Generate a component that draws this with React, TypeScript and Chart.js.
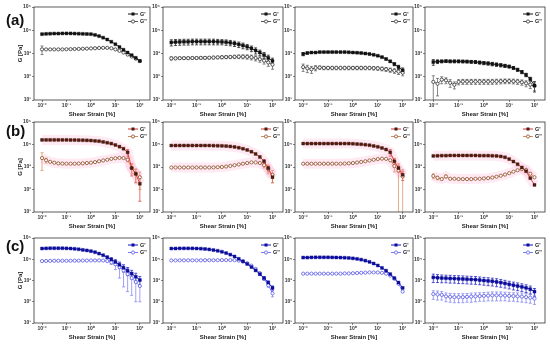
import React, { useEffect, useRef } from 'react';
import { Chart, registerables } from 'chart.js';
Chart.register(...registerables);

const FONT = '"Liberation Sans", Arial, sans-serif';
Chart.defaults.font.family = FONT;

// ---- shared axes / labels ----
const strain = [0.01, 0.0147, 0.0215, 0.0316, 0.0464, 0.0681, 0.1, 0.147, 0.215, 0.316, 0.464, 0.681, 1, 1.47, 2.15, 3.16, 4.64, 6.81, 10, 14.7, 21.5, 31.6, 46.4, 68.1, 100];
const xTickValues = [0.01, 0.1, 1, 10, 100];
const xTickLabels = ['10⁻²', '10⁻¹', '10⁰', '10¹', '10²'];
const yTickValues = [10, 100, 1000, 10000, 100000];
const yTickLabels = ['10¹', '10²', '10³', '10⁴', '10⁵'];
const seriesNames = ["G'", "G''"];
const rowLabels = ['(a)', '(b)', '(c)'];
const xTitle = 'Shear Strain [%]';
const yTitle = 'G [Pa]';

// ---- row (a) ----
const a1GP = [6800, 7000, 7100, 7200, 7200, 7300, 7300, 7300, 7200, 7100, 7000, 6900, 6800, 6300, 5600, 4800, 4000, 3200, 2500, 1900, 1450, 1100, 850, 650, 480];
const a1GPP = [1500, 1500, 1500, 1500, 1500, 1500, 1520, 1540, 1560, 1580, 1600, 1620, 1650, 1680, 1720, 1750, 1750, 1680, 1500, 1300, 1100, 900, 740, 600, 470];
const a1GPPerr = [600, 0, 0, 0, 0, 0, 0, 0, 0, 0, 0, 0, 0, 0, 0, 0, 0, 0, 0, 0, 0, 0, 0, 0, 0];

const a2GP = [3000, 3100, 3150, 3200, 3200, 3250, 3250, 3250, 3250, 3250, 3250, 3200, 3150, 3050, 2900, 2700, 2450, 2200, 1950, 1650, 1350, 1100, 850, 650, 480];
const a2GPerr = [900, 900, 900, 900, 900, 900, 900, 900, 900, 900, 900, 850, 800, 800, 750, 700, 650, 600, 500, 450, 400, 300, 250, 200, 150];
const a2GPP = [620, 620, 630, 630, 630, 640, 640, 650, 650, 660, 670, 680, 690, 700, 710, 720, 730, 730, 720, 690, 640, 570, 490, 410, 330];
const a2GPPerr = [100, 80, 80, 80, 80, 80, 80, 80, 80, 80, 90, 90, 100, 100, 110, 120, 130, 140, 150, 160, 160, 150, 140, 130, 120];

const a3GP = [950, 1050, 1100, 1100, 1150, 1150, 1150, 1150, 1150, 1150, 1150, 1130, 1100, 1080, 1050, 1000, 950, 880, 800, 700, 580, 460, 350, 260, 190];
const a3GPerr = [150, 100, 60, 60, 60, 60, 60, 60, 60, 60, 60, 60, 60, 60, 60, 60, 60, 50, 50, 50, 50, 50, 50, 50, 50];
const a3GPP = [260, 230, 210, 240, 250, 240, 240, 240, 240, 240, 240, 240, 240, 240, 240, 240, 240, 235, 230, 220, 210, 195, 180, 165, 150];
const a3GPPerr = [90, 80, 70, 60, 40, 40, 40, 40, 40, 40, 40, 40, 40, 40, 40, 40, 40, 40, 40, 40, 40, 40, 40, 40, 40];

const a4GP = [430, 450, 460, 470, 460, 460, 460, 455, 450, 440, 430, 410, 390, 375, 355, 335, 315, 295, 275, 240, 200, 160, 120, 80, 42];
const a4GPerr = [120, 80, 60, 60, 60, 60, 60, 60, 60, 60, 60, 60, 60, 60, 60, 55, 50, 45, 40, 35, 30, 25, 20, 15, 20];
const a4GPP = [60, 50, 75, 70, 55, 45, 60, 62, 62, 62, 62, 62, 62, 62, 62, 63, 64, 65, 65, 64, 62, 58, 52, 46, 40];
const a4GPPerr = [50, 35, 25, 20, 20, 15, 15, 15, 15, 15, 15, 15, 15, 15, 15, 15, 15, 15, 15, 15, 15, 15, 15, 15, 15];

// ---- row (b) ----
const b1GP = [16000, 16000, 16000, 16000, 16000, 16000, 16000, 15800, 15800, 15600, 15500, 15300, 15000, 14500, 14000, 13000, 12000, 11000, 9500, 8000, 6500, 4500, 900, 500, 180];
const b1GPerr = [0, 0, 0, 0, 0, 0, 0, 0, 0, 0, 0, 0, 0, 0, 0, 0, 0, 0, 0, 0, 0, 1500, 500, 300, 150];
const b1GPP = [2500, 2000, 1700, 1550, 1450, 1420, 1400, 1400, 1400, 1420, 1450, 1500, 1550, 1650, 1800, 1950, 2100, 2300, 2450, 2550, 2500, 2100, 900, 500, 350];
const b1GPPerr = [1800, 500, 0, 0, 0, 0, 0, 0, 0, 0, 0, 0, 0, 0, 0, 0, 0, 0, 0, 0, 0, 400, 400, 300, 250];

const b2GP = [9000, 9000, 9000, 9000, 9000, 9000, 9000, 9000, 9000, 9000, 8900, 8800, 8700, 8500, 8200, 7800, 7200, 6500, 5700, 4800, 3800, 2800, 1800, 900, 350];
const b2GPerr = [0, 0, 0, 0, 0, 0, 0, 0, 0, 0, 0, 0, 0, 0, 0, 0, 0, 0, 0, 0, 0, 0, 300, 300, 150];
const b2GPP = [950, 950, 950, 950, 950, 950, 950, 950, 950, 950, 960, 980, 1000, 1050, 1120, 1200, 1300, 1400, 1500, 1600, 1600, 1500, 1200, 800, 450];
const b2GPPerr = [0, 0, 0, 0, 0, 0, 0, 0, 0, 0, 0, 0, 0, 0, 0, 0, 0, 0, 0, 0, 0, 0, 300, 300, 250];

const b3GP = [11000, 11000, 11000, 11000, 11000, 11000, 11000, 11000, 11000, 11000, 11000, 11000, 10800, 10500, 10200, 9800, 9300, 8600, 7900, 7000, 6000, 4500, 1800, 900, 450];
const b3GPerr = [0, 0, 0, 0, 0, 0, 0, 0, 0, 0, 0, 0, 0, 0, 0, 0, 0, 0, 0, 0, 0, 1500, 600, 300, 200];
const b3GPP = [1400, 1400, 1400, 1400, 1400, 1400, 1400, 1400, 1400, 1400, 1420, 1450, 1500, 1580, 1680, 1800, 1950, 2100, 2250, 2350, 2300, 2000, 1100, 700, 380];
const b3GPPerr = [0, 0, 0, 0, 0, 0, 0, 0, 0, 0, 0, 0, 0, 0, 0, 0, 0, 0, 0, 0, 0, 0, 500, 700, 380];

const b4GP = [3100, 3150, 3200, 3200, 3250, 3250, 3250, 3250, 3250, 3250, 3250, 3200, 3200, 3200, 3150, 3100, 2950, 2700, 2250, 1750, 1330, 950, 650, 320, 160];
const b4GPP = [400, 330, 290, 380, 300, 300, 290, 290, 290, 290, 300, 300, 310, 320, 340, 370, 410, 460, 530, 620, 720, 800, 750, 500, 350];
const b4GPPerr = [100, 60, 0, 60, 0, 0, 0, 0, 0, 0, 0, 0, 0, 0, 0, 0, 0, 0, 0, 0, 0, 0, 0, 0, 0];

// ---- row (c) ----
const c1GP = [32000, 32500, 33000, 33000, 33000, 33000, 32500, 32000, 31000, 29500, 27500, 26000, 24000, 21500, 18500, 15500, 12500, 9800, 7500, 5500, 4000, 2900, 2100, 1500, 1050];
const c1GPerr = [0, 0, 0, 0, 0, 0, 0, 0, 0, 0, 0, 0, 0, 0, 0, 0, 1500, 2000, 2000, 1800, 1500, 1200, 900, 700, 500];
const c1GPP = [8200, 8300, 8400, 8500, 8500, 8500, 8500, 8500, 8600, 8600, 8700, 8700, 8800, 8800, 8800, 8700, 8200, 7200, 5800, 4300, 3000, 2000, 1300, 850, 550];
const c1GPPerr = [0, 0, 0, 0, 0, 0, 0, 0, 0, 0, 0, 0, 0, 0, 0, 0, 0, 1500, 2500, 3000, 2500, 1700, 1100, 750, 450];

const c2GP = [32000, 32000, 32500, 32500, 32500, 32500, 32000, 31500, 30500, 29000, 27000, 25000, 22500, 19500, 16500, 13500, 10500, 8000, 6000, 4300, 3000, 2000, 1300, 800, 450];
const c2GPerr = [0, 0, 0, 0, 0, 0, 0, 0, 0, 0, 0, 0, 0, 0, 0, 0, 0, 0, 0, 0, 300, 250, 200, 150, 100];
const c2GPP = [8800, 8800, 8900, 8900, 8900, 8900, 8900, 8900, 9000, 9000, 9000, 9000, 9100, 9100, 9100, 9000, 8600, 7800, 6500, 5000, 3500, 2200, 1200, 600, 250];
const c2GPPerr = [0, 0, 0, 0, 0, 0, 0, 0, 0, 0, 0, 0, 0, 0, 0, 0, 0, 0, 0, 0, 300, 250, 200, 120, 80];

const c3GP = [12000, 12000, 12200, 12300, 12300, 12300, 12300, 12200, 12100, 12000, 11800, 11500, 11000, 10400, 9600, 8600, 7500, 6300, 5100, 3900, 2900, 2000, 1300, 800, 450];
const c3GPP = [2100, 2100, 2100, 2100, 2100, 2100, 2100, 2100, 2100, 2100, 2150, 2150, 2200, 2250, 2300, 2350, 2400, 2400, 2400, 2300, 2100, 1700, 1200, 700, 300];

const c4GP = [1400, 1350, 1300, 1280, 1250, 1230, 1200, 1180, 1150, 1120, 1100, 1050, 1000, 960, 920, 860, 800, 730, 660, 600, 550, 500, 450, 390, 300];
const c4GPerr = [600, 550, 520, 500, 500, 480, 480, 470, 460, 450, 440, 420, 400, 390, 370, 350, 320, 290, 260, 240, 220, 200, 180, 160, 120];
const c4GPP = [230, 220, 210, 180, 170, 165, 165, 165, 170, 175, 180, 185, 190, 195, 200, 200, 200, 195, 190, 185, 180, 175, 165, 155, 140];
const c4GPPerr = [100, 100, 90, 80, 75, 75, 75, 75, 75, 80, 80, 80, 85, 85, 90, 90, 90, 85, 85, 80, 80, 80, 75, 70, 65];

const panels = [
  { row: 0, col: 0, gp: a1GP, gpErr: null, gpp: a1GPP, gppErr: a1GPPerr },
  { row: 0, col: 1, gp: a2GP, gpErr: a2GPerr, gpp: a2GPP, gppErr: a2GPPerr },
  { row: 0, col: 2, gp: a3GP, gpErr: a3GPerr, gpp: a3GPP, gppErr: a3GPPerr },
  { row: 0, col: 3, gp: a4GP, gpErr: a4GPerr, gpp: a4GPP, gppErr: a4GPPerr },
  { row: 1, col: 0, gp: b1GP, gpErr: b1GPerr, gpp: b1GPP, gppErr: b1GPPerr },
  { row: 1, col: 1, gp: b2GP, gpErr: b2GPerr, gpp: b2GPP, gppErr: b2GPPerr },
  { row: 1, col: 2, gp: b3GP, gpErr: b3GPerr, gpp: b3GPP, gppErr: b3GPPerr },
  { row: 1, col: 3, gp: b4GP, gpErr: null, gpp: b4GPP, gppErr: b4GPPerr },
  { row: 2, col: 0, gp: c1GP, gpErr: c1GPerr, gpp: c1GPP, gppErr: c1GPPerr },
  { row: 2, col: 1, gp: c2GP, gpErr: c2GPerr, gpp: c2GPP, gppErr: c2GPPerr },
  { row: 2, col: 2, gp: c3GP, gpErr: null, gpp: c3GPP, gppErr: null },
  { row: 2, col: 3, gp: c4GP, gpErr: c4GPerr, gpp: c4GPP, gppErr: c4GPPerr },
];

// ---- layout (plot boxes) ----
const colBox = [[34, 150], [163, 283], [295, 413], [425, 545]];
const rowBox = [[7, 100], [122, 212], [238, 323]];
const rowLabelTop = [11, 122, 237];
const PAD_T = 5;
const PAD_R = 6;
const X_H = 18;

const rowStyles = [
  { gp: '#111111', gpMarker: '#111111', gpp: '#555555', gppMarker: '#333333', band: null },
  { gp: '#d8352a', gpMarker: '#4a1c12', gpp: '#d88a55', gppMarker: '#8a4a28', band: 'rgba(255,150,195,0.20)' },
  { gp: '#1414c8', gpMarker: '#0c0c9a', gpp: '#7a7af2', gppMarker: '#5a5ae6', band: null },
];

const boxPlugin = {
  id: 'boxFrame',
  afterDraw(chart: any) {
    const { ctx, chartArea: a } = chart;
    ctx.save();
    ctx.strokeStyle = '#333';
    ctx.lineWidth = 0.8;
    ctx.strokeRect(a.left, a.top, a.right - a.left, a.bottom - a.top);
    ctx.restore();
  },
};

const errorBarPlugin = {
  id: 'errorBars',
  beforeDatasetsDraw(chart: any) {
    const { ctx, chartArea: a } = chart;
    const xs = chart.scales.x;
    const ys = chart.scales.y;
    chart.data.datasets.forEach((ds: any) => {
      const errs = ds.errors;
      if (!errs) return;
      ctx.save();
      ctx.strokeStyle = ds.borderColor;
      ctx.lineWidth = 0.7;
      ds.data.forEach((pt: any, i: number) => {
        const e = errs[i];
        if (!e) return;
        const px = xs.getPixelForValue(pt.x);
        const top = Math.max(ys.getPixelForValue(pt.y + e), a.top);
        const loV = pt.y - e;
        const lo = loV > 0 ? Math.min(ys.getPixelForValue(loV), a.bottom) : a.bottom;
        ctx.beginPath();
        ctx.moveTo(px, top);
        ctx.lineTo(px, lo);
        ctx.moveTo(px - 1.5, top);
        ctx.lineTo(px + 1.5, top);
        if (lo < a.bottom) {
          ctx.moveTo(px - 1.5, lo);
          ctx.lineTo(px + 1.5, lo);
        }
        ctx.stroke();
      });
      ctx.restore();
    });
  },
};

const legendPlugin = {
  id: 'innerLegend',
  afterDraw(chart: any) {
    const { ctx, chartArea: a } = chart;
    const items = chart.data.datasets.filter((d: any) => d.legendText);
    items.forEach((ds: any, i: number) => {
      const yy = a.top + 7 + i * 7.5;
      const tx = a.right - 10;
      ctx.save();
      ctx.strokeStyle = ds.borderColor;
      ctx.lineWidth = 1;
      ctx.beginPath();
      ctx.moveTo(tx - 12, yy);
      ctx.lineTo(tx - 2, yy);
      ctx.stroke();
      const mx = tx - 7;
      if (ds.pointStyle === 'rect') {
        ctx.fillStyle = ds.pointBackgroundColor;
        ctx.fillRect(mx - 1.5, yy - 1.5, 3, 3);
      } else {
        ctx.fillStyle = '#fff';
        ctx.strokeStyle = ds.pointBorderColor;
        ctx.lineWidth = 0.8;
        ctx.beginPath();
        ctx.arc(mx, yy, 1.6, 0, Math.PI * 2);
        ctx.fill();
        ctx.stroke();
      }
      ctx.fillStyle = '#222';
      ctx.font = `bold 5.5px ${FONT}`;
      ctx.textBaseline = 'middle';
      ctx.textAlign = 'left';
      ctx.fillText(ds.legendText, tx, yy);
      ctx.restore();
    });
  },
};

function Panel({ p }: { p: any }) {
  const ref = useRef<HTMLCanvasElement>(null);
  const [L, R] = colBox[p.col];
  const [T, B] = rowBox[p.row];
  const yW = p.col === 0 ? 17 : 14;
  const left = L - yW;
  const top = T - PAD_T;
  const width = R - L + yW + PAD_R;
  const height = B - T + PAD_T + X_H;

  useEffect(() => {
    const st = rowStyles[p.row];
    const gpData = strain.map((x, i) => ({ x, y: p.gp[i] }));
    const gppData = strain.map((x, i) => ({ x, y: p.gpp[i] }));
    const datasets: any[] = [
      {
        data: gpData, legendText: seriesNames[0], errors: p.gpErr,
        borderColor: st.gp, borderWidth: 0.9, pointStyle: 'rect', pointRadius: 2.1,
        pointBackgroundColor: st.gpMarker, pointBorderColor: st.gpMarker, pointBorderWidth: 0.4, order: 1,
      },
      {
        data: gppData, legendText: seriesNames[1], errors: p.gppErr,
        borderColor: st.gpp, borderWidth: 0.9, pointStyle: 'circle', pointRadius: 1.6,
        pointBackgroundColor: '#ffffff', pointBorderColor: st.gppMarker, pointBorderWidth: 0.8, order: 2,
      },
    ];
    if (st.band) {
      datasets.push({ data: gpData, borderColor: st.band, borderWidth: 10, pointRadius: 0, order: 5 });
      datasets.push({ data: gppData, borderColor: st.band, borderWidth: 10, pointRadius: 0, order: 5 });
    }
    const tickFont = { size: 5, weight: 'bold' as const, family: FONT };
    const chart = new Chart(ref.current as HTMLCanvasElement, {
      type: 'line',
      data: { datasets },
      options: {
        responsive: false,
        animation: false,
        events: [],
        layout: { padding: { left: 0, top: PAD_T, right: PAD_R, bottom: 0 } },
        plugins: { legend: { display: false }, tooltip: { enabled: false } },
        scales: {
          x: {
            type: 'logarithmic',
            min: 0.0047,
            max: 260,
            afterBuildTicks: (s: any) => { s.ticks = xTickValues.map((v) => ({ value: v })); },
            afterFit: (s: any) => { s.height = X_H; },
            ticks: {
              autoSkip: false, maxRotation: 0, padding: 1, color: '#333', font: tickFont,
              callback: (v: any) => xTickLabels[xTickValues.indexOf(Number(v))],
            },
            grid: { drawOnChartArea: false, drawTicks: true, tickLength: 2, color: '#333', lineWidth: 0.6 },
            border: { display: false },
            title: { display: true, text: xTitle, color: '#222', padding: 0, font: { size: 6, weight: 'bold', family: FONT } },
          },
          y: {
            type: 'logarithmic',
            min: 10,
            max: 100000,
            afterBuildTicks: (s: any) => { s.ticks = yTickValues.map((v) => ({ value: v })); },
            afterFit: (s: any) => { s.width = yW; },
            ticks: {
              autoSkip: false, padding: 1, color: '#333', font: tickFont,
              callback: (v: any) => yTickLabels[yTickValues.indexOf(Number(v))],
            },
            grid: { drawOnChartArea: false, drawTicks: true, tickLength: 2, color: '#333', lineWidth: 0.6 },
            border: { display: false },
            title: { display: p.col === 0, text: yTitle, color: '#222', padding: 0, font: { size: 6, weight: 'bold', family: FONT } },
          },
        },
      } as any,
      plugins: [errorBarPlugin, boxPlugin, legendPlugin],
    });
    return () => chart.destroy();
  }, []);

  return (
    <canvas
      ref={ref}
      width={width}
      height={height}
      style={{ position: 'absolute', left, top, width, height }}
    />
  );
}

export default function App() {
  return (
    <div style={{ position: 'fixed', left: 0, top: 0, width: 550, height: 347, background: '#fff', overflow: 'hidden' }}>
      {panels.map((p, i) => (
        <Panel key={i} p={p} />
      ))}
      {rowLabels.map((t, i) => (
        <div
          key={t}
          style={{ position: 'absolute', left: 6, top: rowLabelTop[i], fontFamily: FONT, fontWeight: 'bold', fontSize: 15, lineHeight: '18px', color: '#111' }}
        >
          {t}
        </div>
      ))}
    </div>
  );
}
